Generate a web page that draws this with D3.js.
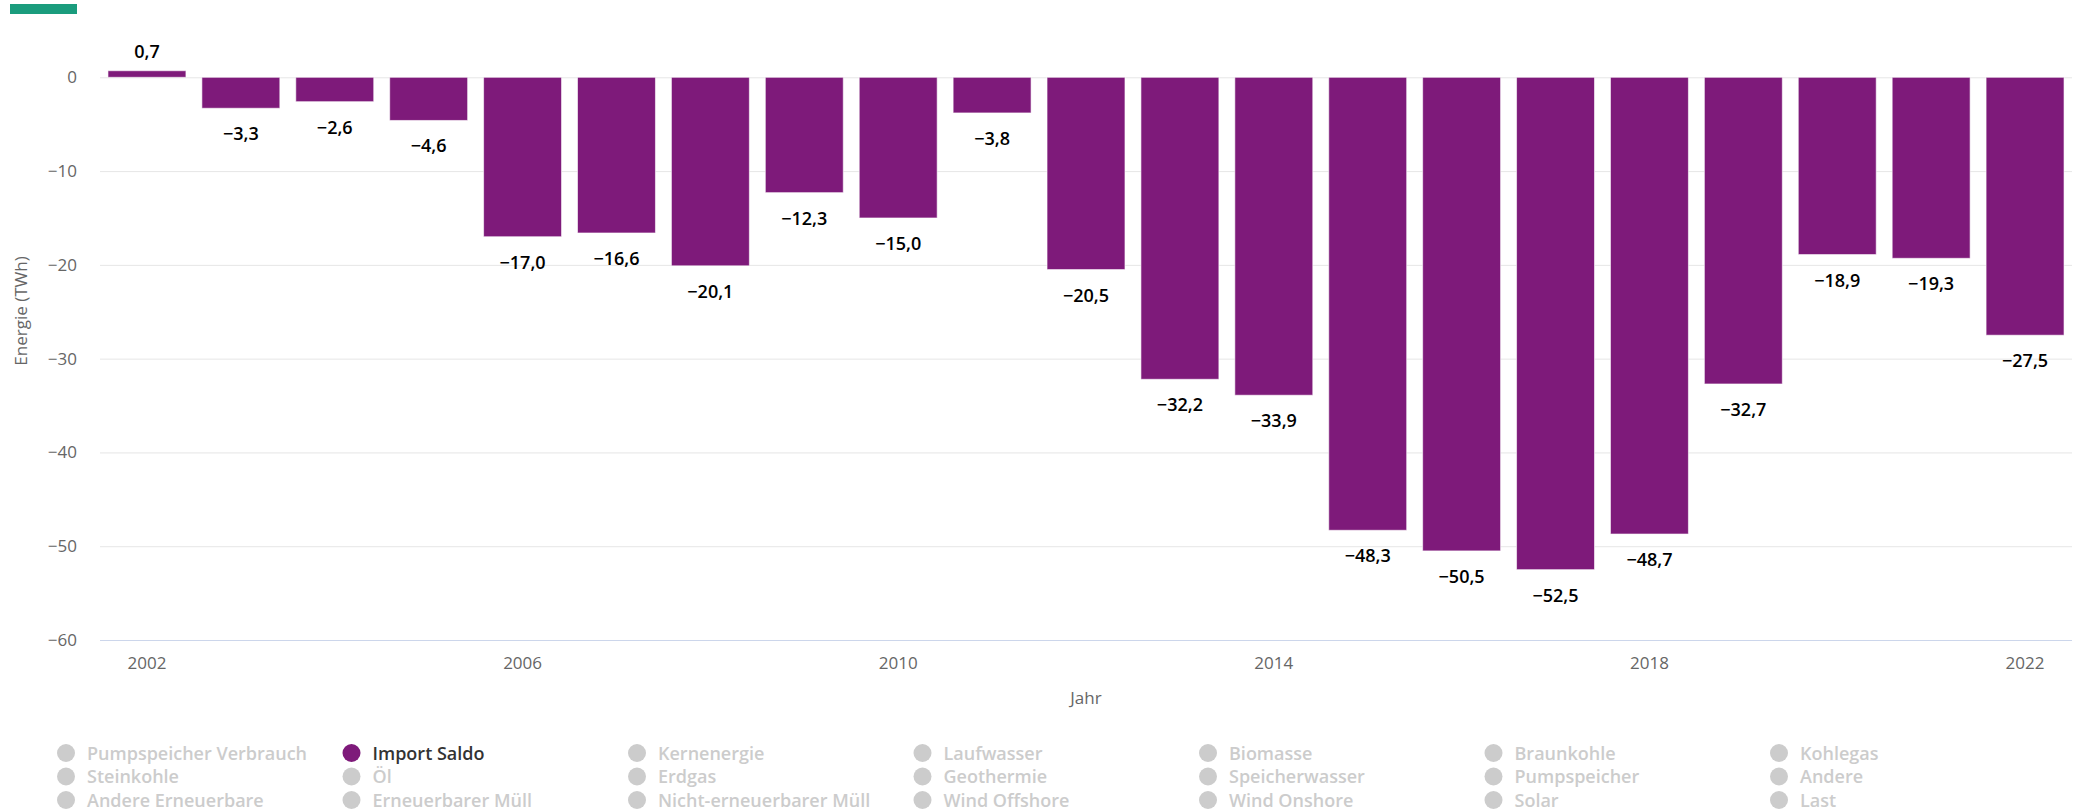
<!DOCTYPE html>
<html>
<head>
<meta charset="utf-8">
<script src="https://cdn.jsdelivr.net/npm/d3@7"></script>
<style>
  html, body { margin: 0; padding: 0; background: #fff; }
  svg { display: block; }
</style>
</head>
<body>
<svg id="chart" width="2078" height="811"></svg>
<script>
const years = [2002,2003,2004,2005,2006,2007,2008,2009,2010,2011,2012,2013,2014,2015,2016,2017,2018,2019,2020,2021,2022];
const importSaldo = [0.7,-3.3,-2.6,-4.6,-17.0,-16.6,-20.1,-12.3,-15.0,-3.8,-20.5,-32.2,-33.9,-48.3,-50.5,-52.5,-48.7,-32.7,-18.9,-19.3,-27.5];
const yTicks = [0,-10,-20,-30,-40,-50,-60];
const xTickLabels = [2002,2006,2010,2014,2018,2022];
const legendNames = [
  "Pumpspeicher Verbrauch","Import Saldo","Kernenergie","Laufwasser","Biomasse","Braunkohle","Kohlegas",
  "Steinkohle","Öl","Erdgas","Geothermie","Speicherwasser","Pumpspeicher","Andere",
  "Andere Erneuerbare","Erneuerbarer Müll","Nicht-erneuerbarer Müll","Wind Offshore","Wind Onshore","Solar","Last"
];
const activeSeries = ["Import Saldo"];

(function () {
const svg = d3.select("#chart");
const font = "'Open Sans', 'DejaVu Sans', sans-serif";
const purple = "#7e1a7a";

// decoration bar top-left
svg.append("rect").attr("x", 10).attr("y", 4).attr("width", 67).attr("height", 10).attr("fill", "#1a9c7d");

const pLeft = 100, pRight = 2072, pTop = 77.3, pBottom = 640;
const x = d3.scaleBand().domain(years).range([pLeft, pRight]).paddingInner(0.17).paddingOuter(0.085);
const y = d3.scaleLinear().domain([-60, 0]).range([pBottom, pTop]);

// grid + y axis
const yAxis = d3.axisLeft(y).tickValues(yTicks).tickSize(-(pRight - pLeft))
  .tickFormat(v => v < 0 ? "\u2212" + (-v) : String(v));
const gy = svg.append("g").attr("transform", `translate(${pLeft},0)`).call(yAxis);
gy.select(".domain").remove();
gy.selectAll(".tick line").attr("stroke", d => d === -60 ? "#ccd6eb" : "#e6e6e6").attr("stroke-width", 1);
gy.selectAll(".tick text").attr("x", -23).attr("fill", "#666").style("font-family", font).style("font-size", "17px");

// x axis
const xAxis = d3.axisBottom(x).tickValues(xTickLabels).tickSize(0).tickPadding(0);
const gx = svg.append("g").attr("transform", `translate(0,${pBottom})`).call(xAxis);
gx.select(".domain").remove();
gx.selectAll(".tick text").attr("y", 29).attr("dy", null).attr("fill", "#666")
  .style("font-family", font).style("font-size", "17px");

// axis titles
svg.append("text").attr("transform", "translate(27,311) rotate(-90)").attr("text-anchor", "middle")
  .attr("fill", "#666").style("font-family", font).style("font-size", "17px").text("Energie (TWh)");
svg.append("text").attr("x", (pLeft + pRight) / 2).attr("y", 704).attr("text-anchor", "middle")
  .attr("fill", "#666").style("font-family", font).style("font-size", "17px").text("Jahr");

// bars
const data = years.map((yr, i) => ({ year: yr, value: importSaldo[i] }));
svg.append("g").selectAll("rect").data(data).join("rect")
  .attr("x", d => x(d.year))
  .attr("width", x.bandwidth())
  .attr("y", d => Math.min(y(d.value), y(0)))
  .attr("height", d => Math.abs(y(d.value) - y(0)))
  .attr("fill", purple)
  .attr("stroke", "#ffffff").attr("stroke-width", 1).attr("stroke-opacity", 0.6);

// data labels
const fmt = v => (v < 0 ? "\u2212" : "") + Math.abs(v).toFixed(1).replace(".", ",");
svg.append("g").selectAll("text").data(data).join("text")
  .attr("x", d => x(d.year) + x.bandwidth() / 2)
  .attr("y", d => d.value >= 0 ? y(d.value) - 13 : y(d.value) + 32)
  .attr("text-anchor", "middle")
  .attr("fill", "#000")
  .style("font-family", font).style("font-size", "18px").style("font-weight", 600)
  .text(d => fmt(d.value));

// legend
const colX0 = 66, colStep = 285.5, rowY0 = 753, rowStep = 23.5;
const lg = svg.append("g").selectAll("g").data(legendNames).join("g")
  .attr("transform", (d, i) => `translate(${colX0 + (i % 7) * colStep},${rowY0 + Math.floor(i / 7) * rowStep})`);
lg.append("circle").attr("r", 9).attr("fill", d => activeSeries.includes(d) ? purple : "#cccccc");
lg.append("text").attr("x", 21).attr("y", 6.5)
  .attr("fill", d => activeSeries.includes(d) ? "#333" : "#cccccc")
  .style("font-family", font).style("font-size", "18px").style("font-weight", 600)
  .text(d => d);
})();
</script>
</body>
</html>
